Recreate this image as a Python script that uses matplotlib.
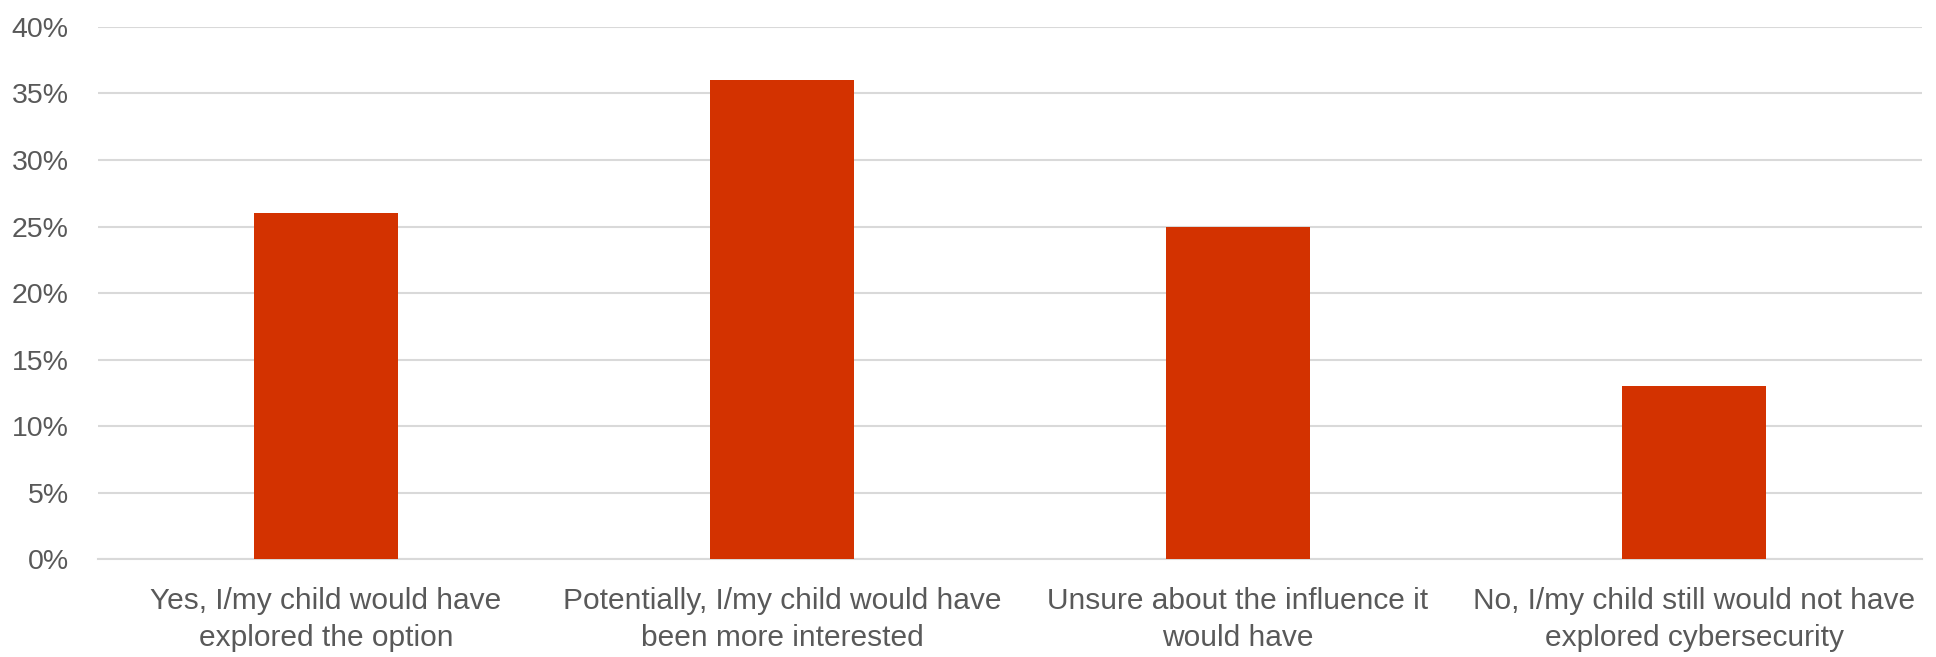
import numpy as np
import matplotlib.pyplot as plt
from matplotlib.ticker import PercentFormatter

categories = [
    "Yes, I/my child would have\nexplored the option",
    "Potentially, I/my child would have\nbeen more interested",
    "Unsure about the influence it\nwould have",
    "No, I/my child still would not have\nexplored cybersecurity",
]
values = [0.26, 0.36, 0.25, 0.13]
yticks = np.arange(0, 0.41, 0.05)

plt.rcParams['font.family'] = ['Liberation Sans', 'DejaVu Sans']

fig = plt.figure(figsize=(19.36, 6.57), dpi=100)
ax = fig.add_axes([0.0506, 0.149, 0.9422, 0.81])

x = np.arange(len(categories))
ax.bar(x, values, width=0.316, color='#D33200', zorder=3)

ax.set_xlim(-0.5, len(categories) - 0.5)
ax.set_ylim(0, 0.40)
ax.set_yticks(yticks)
ax.yaxis.set_major_formatter(PercentFormatter(1.0, decimals=0))
ax.set_xticks(x)
ax.set_xticklabels(categories, linespacing=1.4, fontsize=21.5)

ax.grid(axis='y', color='#D9D9D9', linewidth=1.5, zorder=0)
for s in ['top', 'right', 'left']:
    ax.spines[s].set_visible(False)
ax.spines['bottom'].set_color('#D9D9D9')
ax.spines['bottom'].set_linewidth(1.5)

ax.tick_params(axis='both', length=0, colors='#595959')
ax.tick_params(axis='y', pad=21, labelsize=20.5)
ax.tick_params(axis='x', pad=20)

fig.savefig('out.png', dpi=100)
